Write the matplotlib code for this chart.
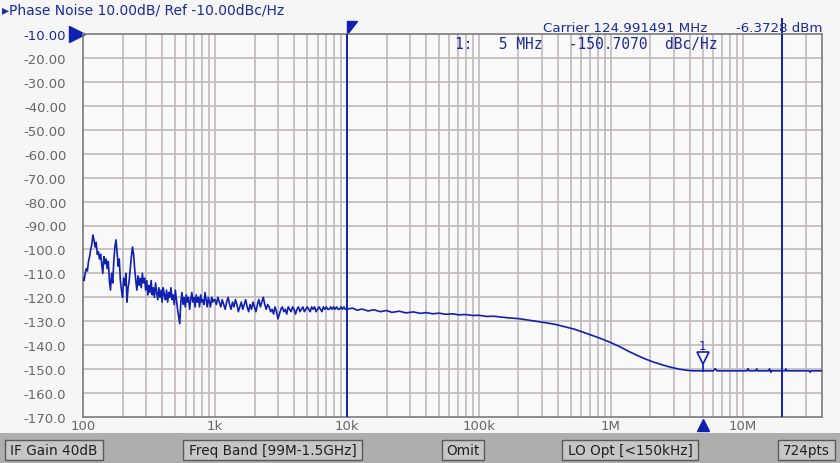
import numpy as np
import matplotlib.pyplot as plt
from matplotlib.patches import Rectangle, Polygon
from matplotlib.transforms import blended_transform_factory

# trace, 100 Hz .. 1 kHz (log-spaced sweep points)
low_vals = [-112, -113, -110, -108, -109, -105, -103, -100, -98, -94,
            -96, -99, -97, -102, -101, -104, -102, -106, -110, -103,
            -106, -104, -108, -105, -113, -117, -110, -114, -105, -99,
            -96, -101, -107, -104, -113, -117, -120, -112, -115, -110,
            -122, -116, -113, -108, -103, -99, -102, -108, -113, -117,
            -111, -115, -112, -116, -110, -114, -112, -117, -113, -119,
            -115, -118, -113, -119, -116, -120, -114, -118, -121, -116,
            -120, -117, -122, -116, -119, -121, -117, -122, -118, -120,
            -116, -121, -119, -123, -117, -121, -125, -128, -131, -122,
            -118, -123, -120, -124, -119, -122, -120, -125, -121, -118,
            -122, -120, -124, -119, -122, -120, -124, -119, -122, -121,
            -123, -118, -121, -124, -120, -122, -124, -120, -122, -121]
# trace, 1 kHz .. 10 kHz
mid_vals = [-121, -123, -120, -122, -124, -121, -123, -125, -122, -120,
            -123, -125, -122, -124, -121, -123, -126, -124, -122, -125,
            -123, -121, -124, -126, -123, -125, -122, -124, -126, -123,
            -121, -124, -122, -120, -123, -125, -123, -124, -126, -125,
            -127, -124, -126, -129, -127, -125, -124, -126, -125, -127,
            -124, -125, -126, -124, -125, -127, -125, -124, -126, -125,
            -124, -126, -125, -124, -125, -126, -124, -125, -124, -126,
            -125, -124, -125, -126, -124, -125, -124, -125, -125, -124,
            -125, -124, -125, -124, -125, -125, -124, -125, -124, -125]
# trace, 10 kHz .. 40 MHz
hi_freq = [10e3, 11e3, 12e3, 13e3, 14.5e3, 16e3, 18e3, 20e3, 22e3, 25e3,
           28e3, 32e3, 36e3, 40e3, 45e3, 50e3, 56e3, 63e3, 70e3, 80e3,
           90e3, 100e3, 115e3, 130e3, 150e3, 170e3, 200e3, 230e3, 270e3, 320e3,
           380e3, 450e3, 530e3, 620e3, 720e3, 850e3, 1e6, 1.17e6, 1.35e6, 1.55e6,
           1.8e6, 2.1e6, 2.45e6, 2.85e6, 3.3e6, 3.8e6, 4.2e6, 5e6, 6.0e6, 6.2e6,
           6.4e6, 8e6, 10.8e6, 11e6, 11.2e6, 12.6e6, 12.8e6, 13e6, 15.8e6, 16e6,
           16.2e6, 16.4e6, 16.6e6, 21e6, 21.3e6, 21.6e6, 32e6, 32.5e6, 33e6, 40e6]
hi_vals = [-125.0, -124.5, -125.4, -124.9, -125.7, -125.2, -126.0, -125.5, -126.3, -125.8,
           -126.5, -126.1, -126.7, -126.4, -126.9, -126.6, -127.1, -126.9, -127.3, -127.2,
           -127.6, -127.5, -128.0, -127.9, -128.3, -128.6, -128.9, -129.4, -130.0, -130.6,
           -131.3, -132.3, -133.3, -134.6, -135.9, -137.3, -138.9, -140.6, -142.4, -144.0,
           -145.6, -147.0, -148.2, -149.2, -150.0, -150.5, -150.7, -150.7, -150.7, -149.8,
           -150.7, -150.7, -150.7, -149.8, -150.7, -150.7, -149.9, -150.7, -150.7, -149.9,
           -150.7, -151.3, -150.7, -150.7, -149.9, -150.7, -150.7, -151.3, -150.7, -150.7]

y_ticks = list(range(-10, -171, -10))
x_ticks = [100, 1e3, 1e4, 1e5, 1e6, 1e7]
x_labels = ["100", "1k", "10k", "100k", "1M", "10M"]
marker_freq = 5e6
marker_val = -150.707
line_freqs = [1e4, 20e6]
status = [("IF Gain 40dB", 5, 103), ("Freq Band [99M-1.5GHz]", 183, 362),
          ("Omit", 442, 484), ("LO Opt [<150kHz]", 562, 698), ("724pts", 778, 835)]

BLUE = "#1020b0"
TXT = "#1a2a9a"
GRAY = "#666666"
W, H = 840, 464

freq = np.concatenate([np.geomspace(100, 1e3, len(low_vals), endpoint=False),
                       np.geomspace(1e3, 1e4, len(mid_vals), endpoint=False),
                       hi_freq])
vals = np.concatenate([low_vals, mid_vals, hi_vals])

fig = plt.figure(figsize=(8.4, 4.64), dpi=100, facecolor="#f6f6f6")
ax = fig.add_axes([83 / W, 1 - 418 / H, (822 - 83) / W, (418 - 35) / H])
ax.set_facecolor("#f9f9f9")
ax.set_xscale("log")
ax.set_xlim(100, 40e6)
ax.set_ylim(-170, -10)

# grid
for d in range(2, 8):
    for m in range(1, 10):
        f = m * 10 ** d
        if 100 < f < 40e6:
            ax.axvline(f, color="#c6bebe", lw=1.3, zorder=1)
for v in y_ticks[1:-1]:
    ax.axhline(v, color="#c6bebe", lw=1.3, zorder=1)
for s in ax.spines.values():
    s.set_color("#7a7a7a")
    s.set_linewidth(1.2)

ax.set_xticks(x_ticks)
ax.set_xticklabels(x_labels)
ax.minorticks_off()
ax.set_yticks(y_ticks)
ax.set_yticklabels([f"{v:.2f}" if v > -100 else f"{v:.1f}" for v in y_ticks])
ax.tick_params(axis="both", length=0, labelsize=9.5, colors=GRAY)
ax.tick_params(axis="y", pad=12)
ax.tick_params(axis="x", pad=1.5)
ax.get_yticklabels()[0].set_color(TXT)

# marker / reference lines
for f in line_freqs:
    ax.axvline(f, color=BLUE, lw=1.4, zorder=3)
trans = blended_transform_factory(ax.transData, ax.transAxes)
ax.plot([20e6, 20e6], [1.0, 1.04], color=BLUE, lw=1.4, transform=trans, clip_on=False)
ax.add_patch(Polygon([(1e4, 1.0), (1e4, 1.035), (1e4 * 10 ** (10 / 132), 1.035)],
                     closed=True, color=BLUE, transform=trans, clip_on=False))
ax.plot(marker_freq, -0.02, marker="^", ms=9, color=BLUE, transform=trans, clip_on=False)
ax.plot(-0.008, 1.0, marker=">", ms=11, color=BLUE, transform=ax.transAxes, clip_on=False)

# trace
ax.plot(freq, vals, color=BLUE, lw=1.2, zorder=4)

# marker 1
ax.plot([marker_freq, marker_freq], [-147.5, marker_val], color=BLUE, lw=1.2, zorder=5)
ax.plot(marker_freq, -145.3, marker="v", ms=8, mfc="#f9f9f9", mec=BLUE, mew=1.2, zorder=5)
ax.text(marker_freq, -140.3, "1", color=BLUE, fontsize=8.5, ha="center", va="center", zorder=5)

# header texts
fig.text(2 / W, 1 - 10 / H, "\u25B8Phase Noise 10.00dB/ Ref -10.00dBc/Hz", color=TXT,
         fontsize=10, va="center", ha="left")
fig.text(707 / W, 1 - 28 / H, "Carrier 124.991491 MHz", color=TXT, fontsize=9.6,
         va="center", ha="right")
fig.text(822 / W, 1 - 28 / H, "-6.3728 dBm", color=TXT, fontsize=9.6, va="center", ha="right")
fig.text(455 / W, 1 - 45 / H, f"1:   5 MHz   {marker_val:.4f}  dBc/Hz", color=TXT,
         fontsize=10.5, va="center", ha="left", family="DejaVu Sans Mono")

# status bar
fig.patches.append(Rectangle((0, 0), 1, 1 - 434 / H, transform=fig.transFigure,
                             facecolor="#aeaeae", edgecolor="none", zorder=0))
for label, x0, x1 in status:
    fig.patches.append(Rectangle((x0 / W, 1 - 461 / H), (x1 - x0) / W, 20 / H,
                                 transform=fig.transFigure, facecolor="#c6c6c6",
                                 edgecolor="#5a5a5a", lw=1, zorder=1))
    fig.text((x0 + x1) / 2 / W, 1 - 451 / H, label, fontsize=9.8, color="#202020",
             ha="center", va="center")

fig.savefig("out.png", dpi=100, facecolor=fig.get_facecolor())
